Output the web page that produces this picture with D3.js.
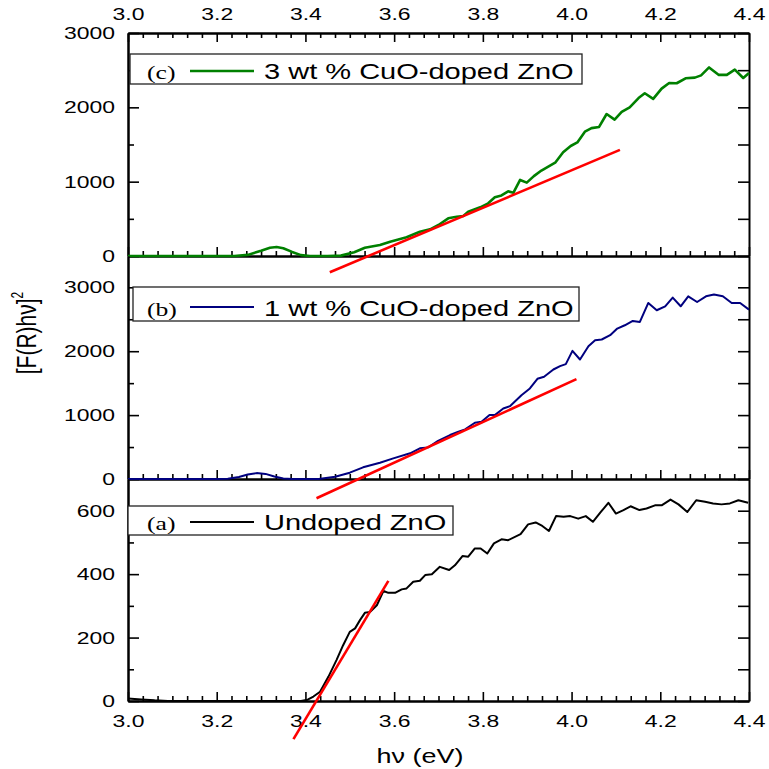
<!DOCTYPE html>
<html>
<head>
<meta charset="utf-8">
<script src="https://cdn.jsdelivr.net/npm/d3@7"></script>
<style>
  body { margin: 0; background: #fff; }
  text { font-family: "Liberation Sans", Arial, sans-serif; }
</style>
</head>
<body>
<svg id="chart" width="769" height="769"></svg>
<script>
// ---- data (photon energy in eV, [F(R)hv]^2) ----
const energyC = [3.00,3.05,3.10,3.15,3.20,3.24,3.27,3.30,3.32,3.335,3.35,3.37,3.39,3.41,3.45,3.48,3.51,3.534,3.568,3.591,3.628,3.658,3.681,3.700,3.722,3.741,3.756,3.767,3.794,3.812,3.827,3.842,3.857,3.869,3.884,3.899,3.915,3.932,3.963,3.981,3.998,4.013,4.030,4.045,4.062,4.079,4.097,4.113,4.131,4.151,4.165,4.184,4.203,4.220,4.237,4.257,4.278,4.292,4.310,4.332,4.350,4.368,4.387,4.400];
const valuesC = [0,0,0,0,0,0,15,70,110,120,105,55,12,0,0,5,50,110,148,193,252,327,359,417,507,529,538,596,655,709,790,815,870,852,1023,987,1075,1150,1255,1395,1480,1528,1673,1720,1736,1910,1835,1938,2000,2125,2189,2113,2252,2328,2324,2391,2400,2430,2537,2436,2436,2508,2395,2463];

const energyB = [3.00,3.10,3.20,3.225,3.25,3.27,3.29,3.31,3.33,3.35,3.37,3.43,3.467,3.500,3.530,3.568,3.598,3.636,3.658,3.677,3.699,3.726,3.745,3.760,3.782,3.797,3.815,3.827,3.846,3.861,3.887,3.906,3.923,3.938,3.959,3.974,3.987,4.002,4.019,4.038,4.053,4.068,4.087,4.103,4.120,4.138,4.154,4.173,4.192,4.211,4.228,4.246,4.263,4.283,4.303,4.321,4.341,4.361,4.380,4.400];
const valuesB = [0,0,0,5,30,70,92,80,40,8,0,0,36,99,183,255,323,402,480,495,598,688,740,776,880,896,1000,1000,1104,1140,1312,1417,1568,1599,1714,1766,1797,2005,1870,2078,2172,2183,2250,2354,2406,2474,2458,2755,2641,2703,2839,2703,2859,2770,2859,2886,2859,2755,2755,2651];

const energyA = [3.000,3.03,3.06,3.09,3.2,3.3,3.39,3.405,3.418,3.433,3.452,3.470,3.485,3.500,3.512,3.523,3.534,3.546,3.561,3.576,3.587,3.602,3.617,3.628,3.643,3.658,3.670,3.685,3.703,3.724,3.737,3.754,3.767,3.782,3.795,3.810,3.825,3.842,3.857,3.885,3.902,3.919,3.934,3.949,3.965,3.982,3.997,4.015,4.032,4.048,4.066,4.083,4.100,4.117,4.133,4.153,4.169,4.188,4.203,4.223,4.241,4.261,4.281,4.301,4.319,4.338,4.357,4.376,4.398];
const valuesA = [8,5,2,0,0,0,0,4,14,29,77,129,176,218,229,255,278,281,302,347,341,341,352,355,376,379,397,400,423,413,428,457,455,481,481,465,497,510,507,526,557,563,552,536,583,581,583,575,583,565,596,625,591,602,614,602,607,617,617,635,620,596,633,628,623,620,623,633,625];

// linear fits (tangent lines) : two end points each
const fitEnergyC = [3.455, 4.109], fitValuesC = [-219, 1427];
const fitEnergyB = [3.425, 4.011], fitValuesB = [-302, 1563];
const fitEnergyA = [3.373, 3.587], fitValuesA = [-120, 379];

const xMajor = [3.0, 3.2, 3.4, 3.6, 3.8, 4.0, 4.2, 4.4];
const xMinor = d3.range(0, 43).map(i => 3.0 + i / 30);
const yMajorCB = [0, 1000, 2000, 3000], yMinorCB = [500, 1500, 2500];
const yMajorA = [0, 200, 400, 600], yMinorA = [100, 300, 500];

const legendC = "3 wt % CuO-doped ZnO";
const legendB = "1 wt % CuO-doped ZnO";
const legendA = "Undoped ZnO";

// ---- layout ----
const svg = d3.select("#chart");
const SX = 1.35;  // the original figure is stretched horizontally
const left = 128, right = 749;
const x = d3.scaleLinear().domain([3.0, 4.4]).range([left, right]);
const xMinorOnly = xMinor.filter(v => !xMajor.some(m => Math.abs(m - v) < 1e-6));

const panels = [
  { tag: "(c)", name: legendC, color: "#008000", lw: 2.6, xs: energyC, ys: valuesC, fx: fitEnergyC, fy: fitValuesC,
    y: d3.scaleLinear().domain([0, 3000]).range([256, 33]), major: yMajorCB, minor: yMinorCB,
    box: [130, 54, 582, 84], lineY: 71, base: 79 },
  { tag: "(b)", name: legendB, color: "#00007f", lw: 2, xs: energyB, ys: valuesB, fx: fitEnergyB, fy: fitValuesB,
    y: d3.scaleLinear().domain([0, 3490]).range([479, 256]), major: yMajorCB, minor: yMinorCB,
    box: [133, 287, 579, 321], lineY: 307, base: 315.5 },
  { tag: "(a)", name: legendA, color: "#000000", lw: 2, xs: energyA, ys: valuesA, fx: fitEnergyA, fy: fitValuesA,
    y: d3.scaleLinear().domain([0, 700]).range([701, 479]), major: yMajorA, minor: yMinorA,
    box: [128, 506, 453, 535], lineY: 522, base: 530 }
];

function stretchTicks(g, fs) {
  g.selectAll("text")
    .attr("transform", `scale(${SX},1)`)
    .style("font-size", fs + "px")
    .attr("fill", "#000");
  g.selectAll("line").attr("stroke", "#000").attr("stroke-width", 1.6);
  g.select(".domain").attr("stroke", "#000").attr("stroke-width", 2);
}

panels.forEach(p => {
  const y = p.y;
  const y0 = y.range()[0];

  // left axis
  svg.append("g").attr("transform", `translate(${left},0)`)
    .call(d3.axisLeft(y).tickValues(p.major).tickSizeInner(-11).tickSizeOuter(0).tickPadding(9.6).tickFormat(d3.format("d")))
    .call(g => stretchTicks(g, 17));
  svg.append("g").attr("transform", `translate(${left},0)`)
    .call(d3.axisLeft(y).tickValues(p.minor).tickSizeInner(-6).tickSizeOuter(0).tickFormat(""))
    .call(g => stretchTicks(g, 17));

  // right axis
  svg.append("g").attr("transform", `translate(${right},0)`)
    .call(d3.axisRight(y).tickValues(p.major.concat(p.minor)).tickSizeInner(-11).tickSizeOuter(0).tickFormat(""))
    .call(g => stretchTicks(g, 17));

  // bottom edge of the panel, ticks pointing up
  const isLast = p.tag === "(a)";
  svg.append("g").attr("transform", `translate(0,${y0})`)
    .call(d3.axisBottom(x).tickValues(xMajor).tickSizeInner(-9).tickSizeOuter(0).tickPadding(14)
      .tickFormat(isLast ? d3.format(".1f") : ""))
    .call(g => stretchTicks(g, 17));
  svg.append("g").attr("transform", `translate(0,${y0})`)
    .call(d3.axisBottom(x).tickValues(xMinorOnly).tickSizeInner(-5).tickSizeOuter(0).tickFormat(""))
    .call(g => stretchTicks(g, 17));

  // data curve
  const pts = p.xs.map((e, i) => [e, p.ys[i]]);
  svg.append("path")
    .datum(pts)
    .attr("fill", "none")
    .attr("stroke", p.color)
    .attr("stroke-width", p.lw)
    .attr("stroke-linejoin", "round")
    .attr("d", d3.line().x(d => x(d[0])).y(d => y(d[1])).curve(d3.curveLinear));

  // tangent fit line
  svg.append("line")
    .attr("x1", x(p.fx[0])).attr("y1", y(p.fy[0]))
    .attr("x2", x(p.fx[1])).attr("y2", y(p.fy[1]))
    .attr("stroke", "#ff0000")
    .attr("stroke-width", 2.6);

  // legend box
  const [bx0, by0, bx1, by1] = p.box;
  svg.append("rect")
    .attr("x", bx0).attr("y", by0)
    .attr("width", bx1 - bx0).attr("height", by1 - by0)
    .attr("fill", "#fff").attr("stroke", "#222").attr("stroke-width", 1.3);
  svg.append("text")
    .attr("transform", `translate(147,${p.base}) scale(${SX},1)`)
    .style("font-family", "'Liberation Serif', 'Times New Roman', serif")
    .style("font-size", "19px")
    .text(p.tag);
  svg.append("line")
    .attr("x1", 190).attr("x2", 254)
    .attr("y1", p.lineY).attr("y2", p.lineY)
    .attr("stroke", p.color).attr("stroke-width", p.lw);
  svg.append("text")
    .attr("transform", `translate(264,${p.base}) scale(${SX},1)`)
    .style("font-size", "21.5px")
    .text(p.name);
});

// top axis
svg.append("g").attr("transform", "translate(0,33)")
  .call(d3.axisTop(x).tickValues(xMajor).tickSizeInner(-9).tickSizeOuter(0).tickPadding(13.5).tickFormat(d3.format(".1f")))
  .call(g => stretchTicks(g, 17));
svg.append("g").attr("transform", "translate(0,33)")
  .call(d3.axisTop(x).tickValues(xMinorOnly).tickSizeInner(-5).tickSizeOuter(0).tickFormat(""))
  .call(g => stretchTicks(g, 17));

// axis titles
svg.append("text")
  .attr("transform", `translate(420,763) scale(${SX},1)`)
  .attr("text-anchor", "middle")
  .style("font-size", "20px")
  .text("hν (eV)");

const yt = svg.append("text")
  .attr("transform", `translate(36,333) rotate(-90) scale(1,${SX})`)
  .attr("text-anchor", "middle")
  .style("font-size", "21px");
yt.append("tspan").text("[F(R)hν]");
yt.append("tspan").attr("dy", -10).style("font-size", "12px").text("2");
</script>
</body>
</html>
